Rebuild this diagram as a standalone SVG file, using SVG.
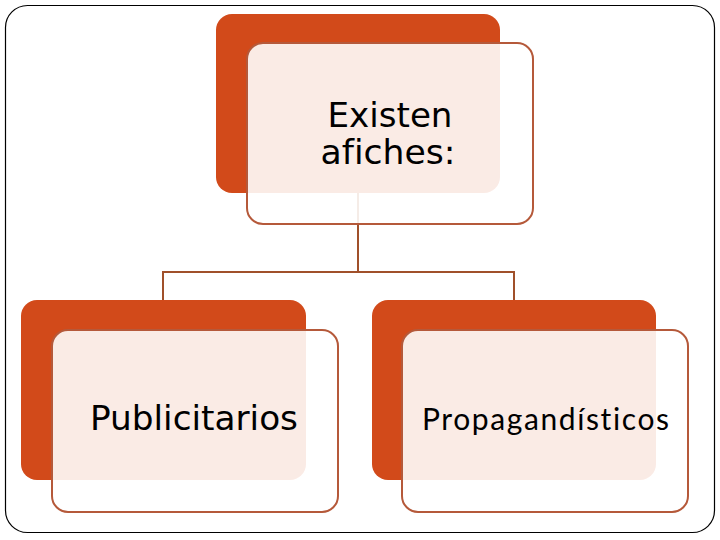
<svg xmlns="http://www.w3.org/2000/svg" width="720" height="540" viewBox="0 0 720 540">
<style>
.back{fill:#D24A1A}
.front{fill:#FFFFFF;fill-opacity:0.89;stroke:#B5593A;stroke-width:2}
.conn{stroke:#A0502A;stroke-width:2;fill:none}
.t1{font-family:"DejaVu Sans",sans-serif;font-size:34px;fill:#000;font-variant-ligatures:none}
.t2{font-family:"Lato","Open Sans",sans-serif;font-size:30px;fill:#000;letter-spacing:1px}
</style>
<rect x="0" y="0" width="720" height="540" fill="#FFFFFF"/>
<rect x="5.5" y="5.5" width="709" height="527" rx="22" ry="22" fill="none" stroke="#000" stroke-width="1.2"/>
<g id="backs">
<rect class="back" x="216" y="14" width="284" height="179" rx="16"/>
<rect class="back" x="21" y="300" width="285" height="180" rx="16"/>
<rect class="back" x="372" y="300" width="284" height="180" rx="16"/>
</g>
<g id="connectors">
<path class="conn" d="M358 193 V272 M163 272 H514 M163 271 V300 M514 271 V300"/>
</g>
<g id="node-root">
<rect class="front" x="247" y="43" width="286" height="181" rx="16"/>
<text class="t1" x="390" y="127" text-anchor="middle" textLength="125" lengthAdjust="spacingAndGlyphs">Existen</text>
<text class="t1" x="388" y="164" text-anchor="middle" textLength="135" lengthAdjust="spacingAndGlyphs">afiches:</text>
</g>
<g id="node-publicitarios">
<rect class="front" x="52" y="330" width="286" height="182" rx="16"/>
<text class="t1" x="194" y="430" text-anchor="middle" textLength="208" lengthAdjust="spacingAndGlyphs">Publicitarios</text>
</g>
<g id="node-propagandisticos">
<rect class="front" x="402" y="330" width="286" height="182" rx="16"/>
<text class="t2" x="546" y="430" text-anchor="middle" textLength="248" lengthAdjust="spacing">Propagandísticos</text>
</g>
</svg>
